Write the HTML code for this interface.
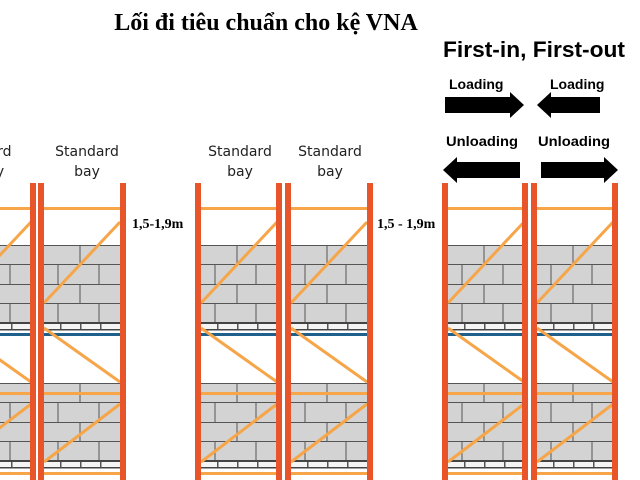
<!DOCTYPE html>
<html><head><meta charset="utf-8"><style>
html,body{margin:0;padding:0;background:#fff;width:640px;height:480px;overflow:hidden}
</style></head><body>
<svg width="640" height="480" viewBox="0 0 640 480" xmlns="http://www.w3.org/2000/svg">
<defs>
<g id="bricks">
<rect x="0" y="0" width="76" height="78" fill="#d3d3d3"/>
<g stroke="#555" stroke-width="1" fill="none">
<line x1="0" y1="0.5" x2="76" y2="0.5"/>
<line x1="0" y1="19.5" x2="76" y2="19.5"/>
<line x1="0" y1="39.5" x2="76" y2="39.5"/>
<line x1="0" y1="58.5" x2="76" y2="58.5"/>
<line x1="36" y1="0" x2="36" y2="19"/>
<line x1="14" y1="19" x2="14" y2="39"/><line x1="55" y1="19" x2="55" y2="39"/>
<line x1="36" y1="39" x2="36" y2="58"/>
<line x1="14" y1="58" x2="14" y2="78"/><line x1="55" y1="58" x2="55" y2="78"/>
</g>
<rect x="0" y="77" width="76" height="2" fill="#444"/>
<rect x="0" y="79" width="76" height="5" fill="#f4f4f4"/>
<g fill="#555"><rect x="16" y="79" width="1.5" height="5"/><rect x="36" y="79" width="1.5" height="5"/><rect x="56" y="79" width="1.5" height="5"/></g>
<rect x="0" y="84" width="76" height="1.5" fill="#444"/>
</g>
<g id="bay">
<rect x="0" y="207" width="76" height="3" fill="#f6a548"/>
<use href="#bricks" x="0" y="245"/>
<rect x="0" y="333" width="76" height="3" fill="#1f5f8b"/>
<use href="#bricks" x="0" y="383"/>
<rect x="0" y="392" width="76" height="3" fill="#f6a548"/>
<rect x="0" y="472" width="76" height="3" fill="#f6a548"/>
<g stroke="#f6a548" stroke-width="3">
<line x1="0" y1="303" x2="76" y2="222"/>
<line x1="0" y1="328" x2="76" y2="382"/>
<line x1="0" y1="462" x2="76" y2="404"/>
</g>
</g>
</defs>
<use href="#bay" x="-45"/>
<use href="#bay" x="44"/>
<use href="#bay" x="201"/>
<use href="#bay" x="291"/>
<use href="#bay" x="448"/>
<use href="#bay" x="537"/>
<g fill="#e8552a">
<rect x="30" y="183" width="6" height="297"/>
<rect x="38" y="183" width="6" height="297"/>
<rect x="120" y="183" width="6" height="297"/>
<rect x="195" y="183" width="6" height="297"/>
<rect x="276" y="183" width="6" height="297"/>
<rect x="285" y="183" width="6" height="297"/>
<rect x="367" y="183" width="6" height="297"/>
<rect x="442" y="183" width="6" height="297"/>
<rect x="522" y="183" width="6" height="297"/>
<rect x="531" y="183" width="6" height="297"/>
<rect x="612" y="183" width="6" height="297"/>
</g>
<text x="266" y="30" text-anchor="middle" font-family="Liberation Sans, serif" font-weight="bold" font-size="24" style="font-family:'Liberation Serif',serif">Lối đi tiêu chuẩn cho kệ VNA</text>
<text x="443" y="57" font-family="Liberation Sans, sans-serif" font-weight="bold" font-size="22" textLength="182" lengthAdjust="spacingAndGlyphs">First-in, First-out</text>
<g font-family="Liberation Sans, sans-serif" font-weight="bold" font-size="14">
<text x="449" y="89">Loading</text>
<text x="550" y="89">Loading</text>
<text x="446" y="146" textLength="72" lengthAdjust="spacingAndGlyphs">Unloading</text>
<text x="538" y="146" textLength="72" lengthAdjust="spacingAndGlyphs">Unloading</text>
</g>
<g fill="#000">
<polygon points="445,97 510,97 510,92 524,105 510,118 510,113 445,113"/>
<polygon points="600,97 551,97 551,92 537,105 551,118 551,113 600,113"/>
<polygon points="520,162 457,162 457,157 443,170 457,183 457,178 520,178"/>
<polygon points="541,162 604,162 604,157 618,170 604,183 604,178 541,178"/>
</g>
<g font-family="DejaVu Sans, sans-serif" font-size="14" fill="#222" text-anchor="middle">
<text x="0" y="156">ard</text><text x="0" y="176">y</text>
<text x="87" y="156">Standard</text><text x="87" y="176">bay</text>
<text x="240" y="156">Standard</text><text x="240" y="176">bay</text>
<text x="330" y="156">Standard</text><text x="330" y="176">bay</text>
</g>
<g font-family="Liberation Serif, serif" font-weight="bold" font-size="14">
<text x="132" y="228">1,5-1,9m</text>
<text x="377" y="228">1,5 - 1,9m</text>
</g>
</svg>
</body></html>
